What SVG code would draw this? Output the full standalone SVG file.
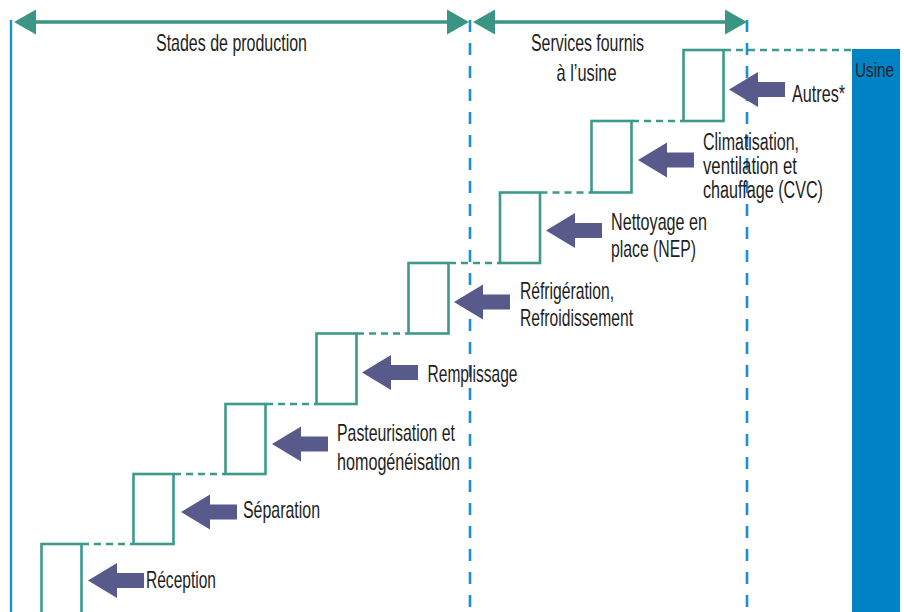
<svg xmlns="http://www.w3.org/2000/svg" width="904" height="612" viewBox="0 0 904 612">
  <style>
    .box { fill: #ffffff; stroke: #3d9a8b; stroke-width: 2.6; }
    .link { fill: none; stroke: #3d9a8b; stroke-width: 2.6; stroke-dasharray: 7 5; }
    .guide { fill: none; stroke: #1b8fd6; stroke-width: 2.6; stroke-dasharray: 12 11; }
    .span { fill: none; stroke: #3a9585; stroke-width: 3.4; }
    .head { fill: #3a9585; }
    .input { fill: #575a8b; }
    text { font-family: "Liberation Sans Narrow", "Liberation Sans", Arial, sans-serif; font-size: 24px; fill: #1e1e1e; }
    .tight { font-size: 23px; }
    .label-in { font-size: 21px; }
  </style>
  <defs>
    <!-- block arrow pointing left, tip at origin -->
    <path id="inArrow" class="input" d="M0,0 L29,-17.5 L29,-7.5 L56,-7.5 L56,7.5 L29,7.5 L29,17.5 Z"/>
  </defs>

  <rect width="904" height="612" fill="#ffffff"/>

  <!-- plant column -->
  <g id="usine">
    <rect x="852" y="49" width="48" height="570" fill="#0083c5"/>
    <text class="label-in" x="855" y="77" textLength="39" lengthAdjust="spacingAndGlyphs">Usine</text>
  </g>

  <!-- section boundaries and ranges -->
  <g id="sections">
    <line x1="11" y1="20" x2="11" y2="612" stroke="#1b8fd6" stroke-width="2.4"/>
    <line class="guide" x1="470" y1="20" x2="470" y2="612"/>
    <line class="guide" x1="747" y1="20" x2="747" y2="612"/>
    <line class="span" x1="34" y1="22" x2="448" y2="22"/>
    <polygon class="head" points="14,22 36,9.5 36,34.5"/>
    <polygon class="head" points="469,22 447,9.5 447,34.5"/>
    <line class="span" x1="494" y1="22" x2="727" y2="22"/>
    <polygon class="head" points="473,22 495,9.5 495,34.5"/>
    <polygon class="head" points="747,22 725,9.5 725,34.5"/>
    <text x="156" y="50.5" textLength="151" lengthAdjust="spacingAndGlyphs">Stades de production</text>
    <text x="531" y="50.5" textLength="113" lengthAdjust="spacingAndGlyphs">Services fournis</text>
    <text x="556.5" y="81" textLength="60" lengthAdjust="spacingAndGlyphs">à l’usine</text>
  </g>

  <!-- dashed connectors between successive stages -->
  <g id="connectors">
    <line class="link" x1="82" y1="544" x2="133" y2="544"/>
    <line class="link" x1="174" y1="474" x2="225" y2="474"/>
    <line class="link" x1="266" y1="404" x2="316" y2="404"/>
    <line class="link" x1="357" y1="333.5" x2="408" y2="333.5"/>
    <line class="link" x1="449" y1="263" x2="499.5" y2="263"/>
    <line class="link" x1="540.5" y1="192.5" x2="591" y2="192.5"/>
    <line class="link" x1="632" y1="121" x2="683" y2="121"/>
    <line class="link" x1="724" y1="50" x2="852" y2="50"/>
  </g>

  <!-- stages -->
  <g id="reception">
    <rect class="box" x="41.5" y="544" width="40" height="80"/>
    <use href="#inArrow" x="88" y="580.5"/>
    <text x="146" y="588" textLength="70" lengthAdjust="spacingAndGlyphs">Réception</text>
  </g>
  <g id="separation">
    <rect class="box" x="133.5" y="474" width="40" height="70"/>
    <use href="#inArrow" x="181" y="512"/>
    <text x="243" y="518" textLength="77" lengthAdjust="spacingAndGlyphs">Séparation</text>
  </g>
  <g id="pasteurisation">
    <rect class="box" x="225.5" y="404" width="40" height="70"/>
    <use href="#inArrow" x="272" y="444"/>
    <text x="337" y="441" textLength="118" lengthAdjust="spacingAndGlyphs">Pasteurisation et</text>
    <text x="337" y="469.5" textLength="123" lengthAdjust="spacingAndGlyphs">homogénéisation</text>
  </g>
  <g id="remplissage">
    <rect class="box" x="316.5" y="333.5" width="40" height="70.5"/>
    <use href="#inArrow" x="362" y="372.5"/>
    <text x="427.5" y="381.5" textLength="90" lengthAdjust="spacingAndGlyphs">Remplissage</text>
  </g>
  <g id="refrigeration">
    <rect class="box" x="408.5" y="263" width="40" height="70.5"/>
    <use href="#inArrow" x="454" y="302"/>
    <text x="520" y="299" textLength="94" lengthAdjust="spacingAndGlyphs">Réfrigération,</text>
    <text x="520" y="326" textLength="113" lengthAdjust="spacingAndGlyphs">Refroidissement</text>
  </g>
  <g id="nep">
    <rect class="box" x="500" y="192.5" width="40" height="70.5"/>
    <use href="#inArrow" x="546" y="230.5"/>
    <text x="611" y="229.5" textLength="96" lengthAdjust="spacingAndGlyphs">Nettoyage en</text>
    <text x="611" y="256.5" textLength="85" lengthAdjust="spacingAndGlyphs">place (NEP)</text>
  </g>
  <g id="cvc">
    <rect class="box" x="591.5" y="121" width="40" height="71.5"/>
    <use href="#inArrow" x="638" y="160"/>
    <text class="tight" x="703" y="150" textLength="96" lengthAdjust="spacingAndGlyphs">Climatisation,</text>
    <text class="tight" x="703" y="174" textLength="94" lengthAdjust="spacingAndGlyphs">ventilation et</text>
    <text class="tight" x="703" y="198" textLength="120" lengthAdjust="spacingAndGlyphs">chauffage (CVC)</text>
  </g>
  <g id="autres">
    <rect class="box" x="683.5" y="50" width="40" height="71"/>
    <use href="#inArrow" x="729" y="89.5"/>
    <text x="792" y="101.5" textLength="53" lengthAdjust="spacingAndGlyphs">Autres*</text>
  </g>
</svg>
